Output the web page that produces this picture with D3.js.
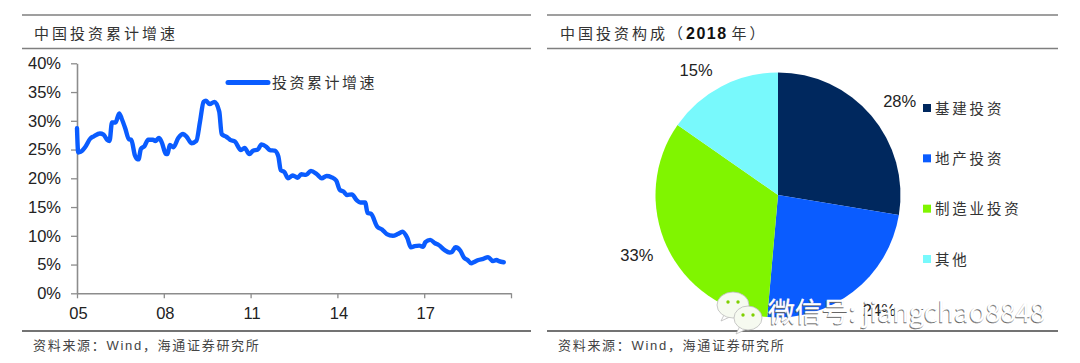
<!DOCTYPE html>
<html>
<head>
<meta charset="utf-8">
<script src="https://cdn.jsdelivr.net/npm/d3@7"></script>
<style>
    html, body { margin: 0; padding: 0; background: #fff; }
    text { font-family: "Liberation Sans", "Noto Sans CJK SC", sans-serif; }
</style>
</head>
<body>
<div id="chart"></div>
<script>
// line chart: months since 2005-01, growth in %
const lineMonths = [0, 0.5, 1.5, 3.5, 5.5, 7, 9.5, 11, 12.5, 13.5, 14.5, 16, 17.5, 18.5, 20, 21.5, 22.5, 24, 25, 25.5,
    26.5, 28, 29.5, 31.5, 32.5, 34, 35, 37, 37.5, 38.5, 40, 42, 44, 45.5, 47.5, 49.5, 51, 52.5, 53.5, 55,
    57, 59, 60, 62, 63.5, 65.5, 68, 69.5, 71.5, 73, 75, 76.5, 78.5, 80, 82, 83.5, 84.5, 86, 87.5, 89.5,
    91.5, 93, 95, 97, 99.5, 101.5, 103.5, 105.5, 107.5, 109, 110.5, 112, 114, 116, 117.5, 119.5, 120.5, 122, 124.5, 126.5,
    128.5, 131, 133, 135, 137, 138.5, 140, 142, 143.5, 144.5, 146.5, 148.5, 150, 152.5, 154.5, 155.5, 157, 159, 160.5, 162,
    163.5, 164.5, 166.5, 168.5, 170.5, 172.5, 174, 175, 177];
const lineValues = [28.7, 24.5, 24.6, 25.5, 26.9, 27.3, 27.8, 27.6, 26.7, 26.5, 29.7, 29.7, 31.3, 30.4, 28.7, 26.8, 26.7, 24.0, 23.3, 23.3,
    25.1, 25.6, 26.7, 26.7, 26.5, 27.0, 26.4, 24.2, 24.2, 25.8, 25.4, 27.0, 27.7, 27.2, 26.1, 26.5, 29.8, 33.3, 33.5, 32.9,
    33.3, 31.6, 27.7, 27.2, 26.7, 26.4, 24.9, 25.3, 24.2, 24.8, 25.0, 25.9, 25.5, 24.9, 24.8, 23.8, 21.4, 21.1, 20.0, 20.5,
    20.1, 20.7, 20.6, 21.3, 20.7, 20.0, 20.4, 20.2, 19.6, 18.0, 17.7, 17.1, 17.2, 16.2, 15.8, 15.8, 14.0, 13.8, 11.6, 11.1,
    10.3, 10.0, 10.3, 10.7, 9.6, 8.0, 8.2, 8.3, 8.1, 8.9, 9.3, 8.7, 8.4, 7.5, 7.1, 7.2, 8.0, 7.4, 6.2, 5.8,
    5.2, 5.4, 5.8, 6.0, 6.3, 5.6, 5.8, 5.6, 5.4];
const xTickMonths = [0, 36, 72, 108, 144, 180];
const xTickLabels = ["05", "08", "11", "14", "17", ""];
const yTicks = [0, 5, 10, 15, 20, 25, 30, 35, 40];
const lineName = "投资累计增速";

// pie chart
const pieNames = ["基建投资", "地产投资", "制造业投资", "其他"];
const pieValues = [27.6, 23.8, 33.3, 15.3];
const pieColors = ["#00285e", "#0a5cff", "#80f500", "#78f9fc"];

const lineColor = "#0a5cff";
const ruleColor = "#7f7f7f";
const axisColor = "#8c8c8c";
const textColor = "#222";
const cjkColor = "#333";

const svg = d3.select("#chart").append("svg")
    .attr("width", 1080)
    .attr("height", 363)
    .style("display", "block");

// title rules + source, same for both panels
function drawFrame(x0, x1, sourceX) {
    svg.append("line").attr("x1", x0).attr("x2", x1).attr("y1", 15).attr("y2", 15)
        .attr("stroke", ruleColor).attr("stroke-width", 1.5);
    svg.append("line").attr("x1", x0).attr("x2", x1).attr("y1", 48.5).attr("y2", 48.5)
        .attr("stroke", ruleColor).attr("stroke-width", 1.5);
    svg.append("line").attr("x1", x0).attr("x2", x1).attr("y1", 331).attr("y2", 331)
        .attr("stroke", "#444").attr("stroke-width", 1.3);
    // fullwidth colon and comma, as in the original
    svg.append("text").attr("x", sourceX).attr("y", 350)
        .attr("font-size", 13).attr("letter-spacing", 1.7).attr("fill", "#444")
        .text("资料来源\uFF1AWind\uFF0C海通证券研究所");
}

drawFrame(22, 531, 33);
drawFrame(547, 1058, 558);

function titleText(x0) {
    return svg.append("text").attr("x", x0).attr("y", 38.5)
        .attr("font-size", 15).attr("letter-spacing", 3).attr("fill", cjkColor);
}
titleText(34).text("中国投资累计增速");

const rightTitle = titleText(560);
rightTitle.append("tspan").text("中国投资构成\uFF08");
rightTitle.append("tspan").attr("font-weight", "bold").attr("font-size", 16)
    .attr("letter-spacing", 1.5).attr("fill", "#111").text("2018");
rightTitle.append("tspan").attr("dx", 4).text("年\uFF09");

// ---- left: line ----
const x = d3.scaleLinear().domain([0, 180]).range([77, 511]);
const y = d3.scaleLinear().domain([0, 40]).range([293.3, 63.3]);

const gx = svg.append("g").attr("transform", "translate(0,293.3)")
    .call(d3.axisBottom(x).tickValues(xTickMonths).tickSize(5).tickSizeOuter(0)
        .tickFormat((d, i) => xTickLabels[i]));
const gy = svg.append("g").attr("transform", "translate(77,0)")
    .call(d3.axisLeft(y).tickValues(yTicks).tickSize(6).tickSizeOuter(0)
        .tickFormat(d => d + "%"));
[gx, gy].forEach(g => {
    g.select(".domain").attr("stroke", axisColor).attr("stroke-width", 1.6);
    g.selectAll(".tick line").attr("stroke", axisColor).attr("stroke-width", 1.3);
    g.selectAll("text").attr("fill", textColor).attr("font-size", 16.5)
        .style("font-family", '"Liberation Sans", sans-serif');
});
gy.selectAll("text").attr("x", -16);
gx.selectAll("text").attr("y", 14).attr("dx", 1);

const line = d3.line()
    .x((d, i) => x(lineMonths[i]))
    .y(d => y(d))
    .curve(d3.curveMonotoneX);

svg.append("path")
    .datum(lineValues)
    .attr("d", line)
    .attr("fill", "none")
    .attr("stroke", lineColor)
    .attr("stroke-width", 4.4)
    .attr("stroke-linejoin", "round")
    .attr("stroke-linecap", "round");

// legend
svg.append("line").attr("x1", 228).attr("x2", 268).attr("y1", 82.5).attr("y2", 82.5)
    .attr("stroke", lineColor).attr("stroke-width", 5).attr("stroke-linecap", "round");
svg.append("text").attr("x", 272).attr("y", 88)
    .attr("font-size", 15).attr("letter-spacing", 2.5).attr("fill", cjkColor)
    .text(lineName);

// ---- right: pie ----
const pieCx = 778, pieCy = 195, pieR = 122.5;
const pie = d3.pie().sort(null).value(d => d);
const arc = d3.arc().innerRadius(0).outerRadius(pieR);
const pieG = svg.append("g").attr("transform", "translate(" + pieCx + "," + pieCy + ")");

pieG.selectAll("path")
    .data(pie(pieValues))
    .enter()
    .append("path")
    .attr("d", arc)
    .attr("fill", (d, i) => pieColors[i]);

// labels sit at different distances in the original, so nudge each one
const labelArc = d3.arc().innerRadius(pieR + 20).outerRadius(pieR + 20);
const labelNudge = [[13, -2], [14, 3], [-12, 0], [-16, 2]];
pieG.selectAll(".pie-label")
    .data(pie(pieValues))
    .enter()
    .append("text")
    .attr("class", "pie-label")
    .attr("transform", (d, i) => {
        let pos = labelArc.centroid(d);
        return "translate(" + (pos[0] + labelNudge[i][0]) + "," + (pos[1] + labelNudge[i][1]) + ")";
    })
    .attr("text-anchor", "middle")
    .attr("dy", "0.35em")
    .attr("font-size", 16.5)
    .attr("fill", textColor)
    .text(d => Math.round(d.data) + "%");

// legend
const legendY = d3.scalePoint().domain(pieNames).range([108, 259]);
const legend = svg.selectAll(".pie-legend")
    .data(pieNames)
    .enter()
    .append("g")
    .attr("class", "pie-legend")
    .attr("transform", d => "translate(923," + legendY(d) + ")");
legend.append("rect")
    .attr("x", 0).attr("y", -4)
    .attr("width", 8).attr("height", 8)
    .attr("fill", (d, i) => pieColors[i]);
legend.append("text")
    .attr("x", 12).attr("y", 5.5)
    .attr("font-size", 14.5).attr("letter-spacing", 2.8).attr("fill", cjkColor)
    .text(d => d);

// ---- watermark ----
const mark = svg.append("g");
[[733, 305, 16, 13], [748, 318, 14, 12]].forEach(b => {
    mark.append("path")
        .attr("d", "M" + (b[0] - 8) + "," + (b[1] + 8) + "l-4,8l11,-5z")
        .attr("fill", "#fff").attr("stroke", "#bbb").attr("stroke-width", 0.8);
    mark.append("ellipse").attr("cx", b[0]).attr("cy", b[1]).attr("rx", b[2]).attr("ry", b[3])
        .attr("fill", "#f6faf0").attr("stroke", "#bbb").attr("stroke-width", 0.8);
    [-5, 5].forEach(dx => {
        mark.append("circle").attr("cx", b[0] + dx).attr("cy", b[1] - 3).attr("r", 1.7).attr("fill", "#7fd000");
    });
});
[[-0.7, 0.9, "#666"], [0, 0, "#fff"]].forEach(s => {
    mark.append("text").attr("x", 768 + s[0]).attr("y", 322 + s[1])
        .attr("font-size", 27).attr("fill", s[2])
        .attr("stroke", s[2]).attr("stroke-width", 0.3)
        .style("font-family", '"Noto Sans CJK SC", sans-serif')
        .text("微信号: jiangchao8848");
});
</script>
</body>
</html>
